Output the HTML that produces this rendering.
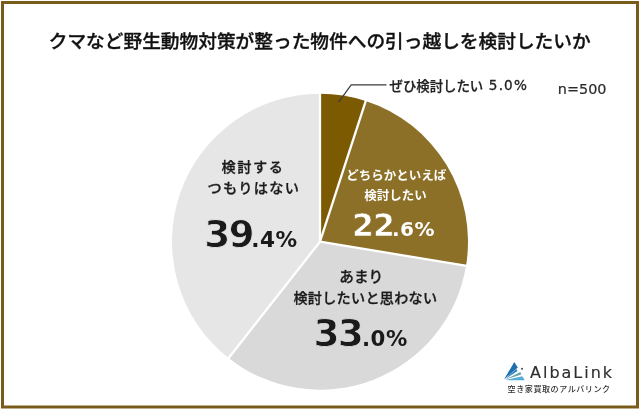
<!DOCTYPE html>
<html lang="ja">
<head>
<meta charset="utf-8">
<title>クマなど野生動物対策が整った物件への引っ越しを検討したいか</title>
<style>
html,body{margin:0;padding:0;background:#fff;}
body{width:640px;height:410px;overflow:hidden;position:relative;}
svg{display:block;position:absolute;left:0;top:0;}
.jp{font-family:"Liberation Sans","Noto Sans CJK JP",sans-serif;}
.num{font-family:"DejaVu Sans","Liberation Sans",sans-serif;font-weight:bold;}
.sm{font-family:"DejaVu Sans","Liberation Sans",sans-serif;font-weight:bold;letter-spacing:0.5px;}
.hv{stroke:#1a1a1a;stroke-width:0.3px;}
.lat{font-family:"DejaVu Sans","Liberation Sans",sans-serif;}
</style>
</head>
<body>
<svg width="640" height="410" viewBox="0 0 640 410">
  <rect x="0" y="0" width="640" height="410" fill="#ffffff"/>
  <!-- frame -->
  <rect x="2.5" y="2.5" width="635" height="404.5" fill="none" stroke="#7A5C1A" stroke-width="3"/>

  <!-- title -->
  <text class="jp" x="319.7" y="47.8" font-size="18.7" font-weight="500" fill="#111" stroke="#111" stroke-width="0.35" text-anchor="middle">クマなど野生動物対策が整った物件への引っ越しを検討したいか</text>

  <!-- pie -->
  <g>
    <path d="M320 241.7 L320.00 93.70 A148 148 0 0 1 365.73 100.94 Z" fill="#7C5A02"/>
    <path d="M320 241.7 L365.73 100.94 A148 148 0 0 1 466.03 265.77 Z" fill="#8C7028"/>
    <path d="M320 241.7 L466.03 265.77 A148 148 0 0 1 228.56 358.07 Z" fill="#D9D9D9"/>
    <path d="M320 241.7 L228.56 358.07 A148 148 0 0 1 320.00 93.70 Z" fill="#E6E6E6"/>
    <g stroke="#ffffff" stroke-width="2.3" stroke-linecap="butt">
      <line x1="320" y1="241.7" x2="320.00" y2="93.0"/>
      <line x1="320" y1="241.7" x2="365.95" y2="100.3"/>
      <line x1="320" y1="241.7" x2="466.8" y2="265.9"/>
      <line x1="320" y1="241.7" x2="228.1" y2="358.7"/>
    </g>
  </g>

  <!-- leader line -->
  <polyline points="338.6,102.2 351.2,84.8 386.5,84.8" fill="none" stroke="#3a3a3a" stroke-width="1.2"/>

  <!-- label: 5.0% -->
  <text class="jp" x="389.5" y="91" font-size="13.4" font-weight="500" fill="#222" stroke="#222" stroke-width="0.25">ぜひ検討したい<tspan class="lat" font-size="13.6" font-weight="normal" dx="5.6" dy="-1" letter-spacing="1.15" stroke-width="0.3">5.0%</tspan></text>
  <text class="lat" x="557.8" y="93.8" font-size="14.4" fill="#2b2b2b" stroke="#2b2b2b" stroke-width="0.2">n=500</text>

  <!-- label: 22.6% -->
  <g fill="#ffffff" text-anchor="middle">
    <text class="jp" x="396.2" y="179.9" font-size="12.5" font-weight="bold">どちらかといえば</text>
    <text class="jp" x="395.5" y="200.2" font-size="12.5" font-weight="bold">検討したい</text>
    <text text-anchor="start" y="235.7"><tspan class="num" x="351.9" font-size="31.5" letter-spacing="-0.9" stroke="#8C7028" stroke-width="0.7">22</tspan><tspan class="sm" x="392" font-size="20">.6%</tspan></text>
  </g>

  <!-- label: 33.0% -->
  <g fill="#1a1a1a" text-anchor="middle">
    <text class="jp hv" x="361.3" y="282.3" font-size="14.67" font-weight="500">あまり</text>
    <text class="jp hv" x="365.4" y="303" font-size="14.1" font-weight="500" letter-spacing="0.3">検討したいと思わない</text>
    <text text-anchor="start" y="345.5"><tspan class="num" x="313.4" font-size="37.5" letter-spacing="-1.8" stroke="#D9D9D9" stroke-width="0.8">33</tspan><tspan class="sm" x="362" font-size="21.3">.0%</tspan></text>
  </g>

  <!-- label: 39.4% -->
  <g fill="#1a1a1a" text-anchor="middle">
    <text class="jp hv" x="253" y="171.6" font-size="14.2" font-weight="500" letter-spacing="1.6">検討する</text>
    <text class="jp hv" x="253.8" y="192.6" font-size="14.2" font-weight="500" letter-spacing="1.25">つもりはない</text>
    <text text-anchor="start" y="246.8"><tspan class="num" x="204.3" font-size="37.5" letter-spacing="-1.8" stroke="#E6E6E6" stroke-width="0.8">39</tspan><tspan class="sm" x="251.2" font-size="21.6">.4%</tspan></text>
  </g>

  <!-- logo -->
  <g>
    <polygon points="504.1,379.3 514.3,362 517.8,367.5" fill="#1f6fae"/>
    <polygon points="504.6,379.4 516.4,368.9 517.5,371.1" fill="#2683c6"/>
    <polygon points="505.2,379.7 520.3,372.1 521.4,374.4" fill="#6aa3b0"/>
    <polygon points="505.6,380.1 522.3,376.2 524.8,380.3" fill="#58abd9"/>
    <circle cx="522" cy="368.8" r="0.95" fill="#2a3a55"/>
    <text class="lat" x="530" y="377.6" font-size="16" letter-spacing="2.0" fill="#2e2e2e" stroke="#2e2e2e" stroke-width="0.15">AlbaLink</text>
    <text class="jp" x="507.6" y="392.2" font-size="8.1" letter-spacing="0.5" font-weight="500" fill="#333">空き家買取のアルバリンク</text>
  </g>
</svg>
</body>
</html>
